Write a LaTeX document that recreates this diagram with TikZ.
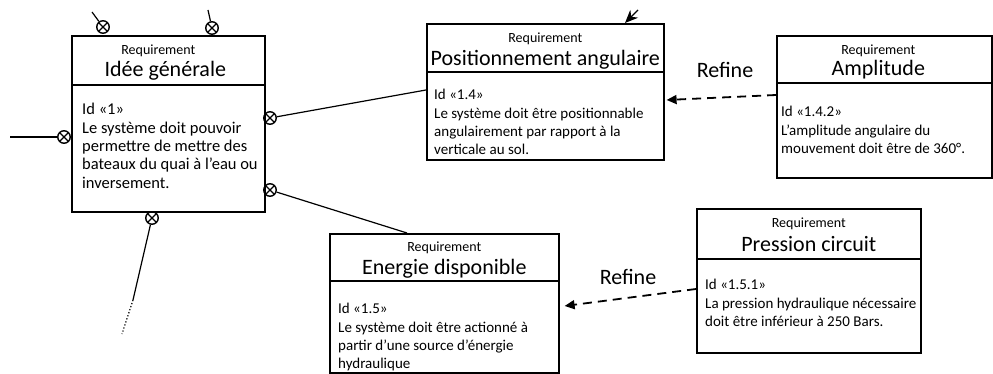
\documentclass[tikz,border=0pt]{standalone}
\usepackage{fontspec}
\setmainfont{Carlito}
\usetikzlibrary{calc, positioning, arrows.meta}
\tikzset{
	x=1pt, y=-1pt,
	line width=.75pt,
	reqbox/.style={
		draw,
		rectangle,
		line width=1.6pt,
		inner sep=0pt,
		anchor=north west
	},
	reqline/.style={
		line width=1.6pt
	},
	stereo/.style={
		font=\fontsize{14}{15}\selectfont,
		inner sep=0pt
	},
	reqtitle/.style={
		font=\fontsize{22}{24}\selectfont,
		inner sep=0pt
	},
	reqbody/.style={
		font=\fontsize{15}{18.4}\selectfont,
		align=left,
		anchor=north west,
		inner sep=0pt
	},
	contain/.style={
		draw,
		circle,
		line width=1.4pt,
		minimum size=12.5pt,
		inner sep=0pt,
		path picture={
			\draw[line width=1.3pt] (path picture bounding box.north west) -- (path picture bounding box.south east)
				(path picture bounding box.north east) -- (path picture bounding box.south west);
		}
	},
	containline/.style={
		line width=1.2pt
	},
	refine/.style={
		-{Triangle[length=10pt,width=9pt]},
		dash pattern=on 9pt off 6pt,
		line width=1.8pt
	},
	refinelabel/.style={
		font=\fontsize{22}{24}\selectfont,
		inner sep=0pt
	}
}

\begin{document}
\begin{tikzpicture}
\useasboundingbox (0,0) rectangle (993,374);

% ---
% Requirements
% ---
\node[reqbox, minimum width=193pt, minimum height=176pt] (gen) at (71,35) {};
\draw[reqline] ($(gen.north west)+(0,50)$) -- ($(gen.north east)+(0,50)$);
\node[stereo] (gen-stereo) at ($(gen.north)+(-10,16)$) {Requirement};
\node[reqtitle] (gen-title) at ($(gen.north)+(-3,36)$) {Idée générale};
\node[reqbody, font=\fontsize{16.5}{18.4}\selectfont] (gen-body) at ($(gen.north west)+(11,68)$) {Id «1»\\Le système doit pouvoir\\permettre de mettre des\\bateaux du quai à l’eau ou\\inversement.};

\node[reqbox, minimum width=237pt, minimum height=136pt] (pos) at (426,23) {};
\draw[reqline] ($(pos.north west)+(0,49)$) -- ($(pos.north east)+(0,49)$);
\node[stereo] (pos-stereo) at ($(pos.north)+(0,16)$) {Requirement};
\node[reqtitle] (pos-title) at ($(pos.north)+(0,37)$) {Positionnement angulaire};
\node[reqbody] (pos-body) at ($(pos.north west)+(8,66)$) {Id «1.4»\\Le système doit être positionnable\\angulairement par rapport à la\\verticale au sol.};

\node[reqbox, minimum width=215pt, minimum height=142pt] (amp) at (776,35) {};
\draw[reqline] ($(amp.north west)+(0,48)$) -- ($(amp.north east)+(0,48)$);
\node[stereo] (amp-stereo) at ($(amp.north)+(-6,16)$) {Requirement};
\node[reqtitle] (amp-title) at ($(amp.north)+(-6,35)$) {Amplitude};
\node[reqbody] (amp-body) at ($(amp.north west)+(5,71)$) {Id «1.4.2»\\L’amplitude angulaire du\\mouvement doit être de 360°.};

\node[reqbox, minimum width=229pt, minimum height=139pt] (ene) at (329,233) {};
\draw[reqline] ($(ene.north west)+(0,48)$) -- ($(ene.north east)+(0,48)$);
\node[stereo] (ene-stereo) at ($(ene.north)+(0,15)$) {Requirement};
\node[reqtitle] (ene-title) at ($(ene.north)+(0,36)$) {Energie disponible};
\node[reqbody] (ene-body) at ($(ene.north west)+(9,70)$) {Id «1.5»\\Le système doit être actionné à\\partir d’une source d’énergie\\hydraulique};

\node[reqbox, minimum width=224pt, minimum height=144pt] (pres) at (696,208) {};
\draw[reqline] ($(pres.north west)+(0,51)$) -- ($(pres.north east)+(0,51)$);
\node[stereo] (pres-stereo) at ($(pres.north)+(0,16)$) {Requirement};
\node[reqtitle] (pres-title) at ($(pres.north)+(0,36)$) {Pression circuit};
\node[reqbody] (pres-body) at ($(pres.north west)+(9,71)$) {Id «1.5.1»\\La pression hydraulique nécessaire\\doit être inférieur à 250 Bars.};

% ---
% Containment
% ---
\node[contain] (c-top1) at (103,27) {};
\node[contain] (c-top2) at (212,28) {};
\node[contain] (c-left) at (64,137) {};
\node[contain] (c-right1) at (270,118) {};
\node[contain] (c-right2) at (270,190) {};
\node[contain] (c-bot) at (152,218) {};
\coordinate (top1-end) at (92,12);
\coordinate (top2-end) at (208,10);
\coordinate (left-end) at (10,137);
\coordinate (bot-mid) at (133,300);
\coordinate (bot-end) at (122,334);

\draw[containline] (top1-end) -- (c-top1);
\draw[containline] (top2-end) -- (c-top2);
\draw[containline] (left-end) -- (c-left);
\draw[containline] (c-right1) -- ($(pos.north west)+(0,67)$);
\draw[containline] (c-right2) -- ($(ene.north west)+(78,0)$);
\draw[containline] (c-bot) -- (bot-mid);
\draw[containline, dotted] (bot-mid) -- (bot-end);

% ---
% Refine
% ---
\coordinate (pos-ext) at (638,10);
\draw[line width=1.2pt, -{Stealth[length=13pt,width=11pt]}] (pos-ext) -- ($(pos.north west)+(199,0)$);
\draw[refine] ($(amp.north west)+(0,60)$) -- ($(pos.north east)+(2,77)$);
\node[refinelabel] (refine-amp) at (725,70) {Refine};
\draw[refine] ($(pres.north west)+(0,81)$) -- ($(ene.north east)+(5,73)$);
\node[refinelabel] (refine-pres) at (628,277) {Refine};
\end{tikzpicture}
\end{document}
